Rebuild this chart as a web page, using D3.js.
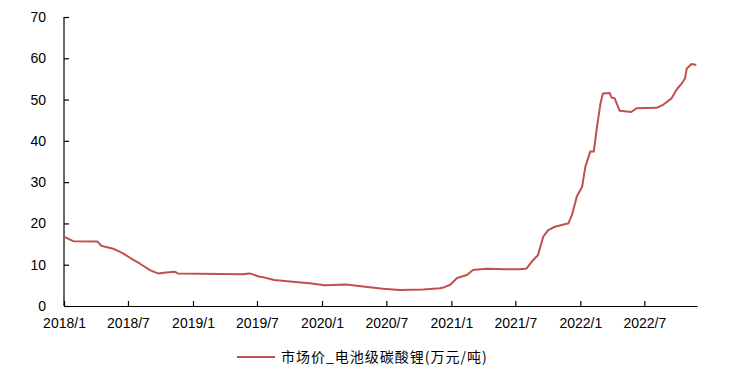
<!DOCTYPE html>
<html>
<head>
<meta charset="utf-8">
<script src="https://cdn.jsdelivr.net/npm/d3@7"></script>
<style>
  body { margin: 0; background: #fff; }
  .canvas svg { display: block; }
</style>
</head>
<body>
<div class="canvas"></div>
<script>
// data (date, price in 万元/吨)
const dates = [
  "2018-01-01","2018-01-27","2018-04-06","2018-04-16","2018-05-09","2018-05-23",
  "2018-06-16","2018-07-10","2018-08-03","2018-09-01","2018-09-24","2018-10-17",
  "2018-11-10","2018-11-19","2019-05-21","2019-06-10","2019-07-08","2019-07-17",
  "2019-08-19","2019-10-10","2019-11-27","2020-01-09","2020-03-10","2020-04-26",
  "2020-06-22","2020-08-08","2020-10-13","2020-11-30","2020-12-10","2020-12-28",
  "2021-01-17","2021-02-14","2021-03-03","2021-04-10","2021-06-06","2021-07-13",
  "2021-08-02","2021-08-20","2021-09-03","2021-09-18","2021-10-02","2021-10-21",
  "2021-11-23","2021-11-28","2021-12-08","2021-12-22","2022-01-06","2022-01-15",
  "2022-01-29","2022-02-08","2022-02-17","2022-02-27","2022-03-06","2022-03-25",
  "2022-03-30","2022-04-08","2022-04-22","2022-05-25","2022-06-09","2022-08-05",
  "2022-08-24","2022-09-16","2022-10-01","2022-10-15","2022-10-24","2022-10-29",
  "2022-11-12","2022-11-25"
];
const prices = [
  16.8,15.7,15.6,14.6,14.1,13.8,
  12.8,11.5,10.3,8.7,7.9,8.1,
  8.3,7.9,7.7,7.9,7.1,7.0,
  6.3,5.9,5.5,5.0,5.2,4.7,
  4.2,3.9,4.0,4.3,4.5,5.1,
  6.8,7.5,8.7,9.0,8.9,8.9,
  9.1,11.1,12.3,16.8,18.4,19.2,
  19.9,20.0,22.0,26.5,28.9,33.7,
  37.4,37.4,43.4,49.1,51.5,51.6,
  50.5,50.3,47.3,47.0,47.9,48.0,
  48.8,50.3,52.5,53.9,55.1,57.5,
  58.6,58.4
];
const xTickLabels = ["2018/1","2018/7","2019/1","2019/7","2020/1","2020/7","2021/1","2021/7","2022/1","2022/7"];
const yTicks = [0,10,20,30,40,50,60,70];
const seriesName = "市场价_电池级碳酸锂(万元/吨)";

const parse = d3.timeParse("%Y-%m-%d");
const data = dates.map((d, i) => ({ date: parse(d), value: prices[i] }));

const width = 747, height = 374;
const margin = { top: 17, right: 50, bottom: 68, left: 64 };
const graphWidth = width - margin.left - margin.right;
const graphHeight = height - margin.top - margin.bottom;

const svg = d3.select('.canvas')
  .append('svg')
  .attr('width', width)
  .attr('height', height);

const graph = svg.append('g')
  .attr('transform', `translate(${margin.left}, ${margin.top})`);

const x = d3.scaleTime()
  .domain([parse("2018-01-01"), parse("2022-11-27")])
  .range([0, graphWidth]);

const y = d3.scaleLinear()
  .domain([0, 70])
  .range([graphHeight, 0]);

const tickDates = xTickLabels.map(t => {
  const [yr, mo] = t.split('/').map(Number);
  return new Date(yr, mo - 1, 1);
});

// axes
const xAxis = d3.axisBottom(x)
  .tickValues(tickDates)
  .tickFormat((d, i) => xTickLabels[i])
  .tickSizeInner(-5)
  .tickSizeOuter(0)
  .tickPadding(12);

const yAxis = d3.axisLeft(y)
  .tickValues(yTicks)
  .tickSizeInner(-5)
  .tickSizeOuter(0)
  .tickPadding(18);

const xAxisGroup = graph.append('g')
  .attr('transform', `translate(0, ${graphHeight})`)
  .call(xAxis);

const yAxisGroup = graph.append('g').call(yAxis);

[xAxisGroup, yAxisGroup].forEach(g => {
  g.select('.domain').attr('stroke', '#000').attr('stroke-width', 1.2);
  g.selectAll('.tick line').attr('stroke', '#000').attr('stroke-width', 1.2);
  g.selectAll('.tick text')
    .attr('fill', '#000')
    .style('font-family', '"Liberation Sans", Arial, sans-serif')
    .style('font-size', '14px');
});
// small inward tick at the top of the y axis, as in the original
yAxisGroup.select('.domain').attr('d', `M0,${graphHeight}V0`);

// line
const line = d3.line()
  .x(d => x(d.date))
  .y(d => y(d.value));

graph.append('path')
  .datum(data)
  .attr('fill', 'none')
  .attr('stroke', '#c0504d')
  .attr('stroke-width', 2)
  .attr('stroke-linejoin', 'round')
  .attr('d', line);

// legend
const legend = svg.append('g').attr('transform', 'translate(237, 357)');
legend.append('line')
  .attr('x1', 0).attr('x2', 38)
  .attr('stroke', '#c0504d')
  .attr('stroke-width', 2);
legend.append('text')
  .attr('x', 44)
  .attr('y', 5)
  .style('font-family', '"Noto Sans CJK SC", sans-serif')
  .style('font-size', '14px')
  .style('letter-spacing', '1px')
  .attr('fill', '#000')
  .text(seriesName);
</script>
</body>
</html>
